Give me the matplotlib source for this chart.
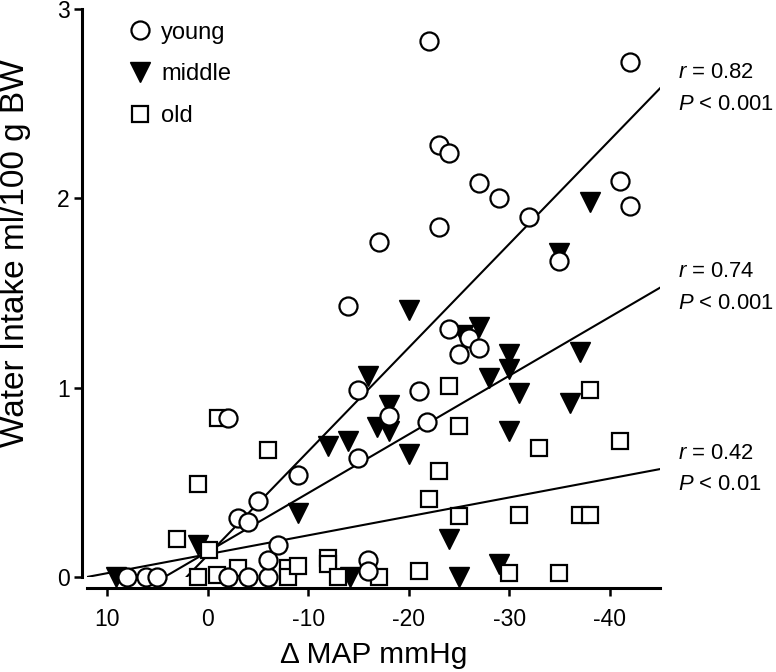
import numpy as np
import matplotlib
matplotlib.use("Agg")
import matplotlib.pyplot as plt
from matplotlib.lines import Line2D

plt.rcParams['font.family'] = ['Liberation Sans', 'DejaVu Sans']
plt.rcParams['mathtext.fontset'] = 'custom'
plt.rcParams['mathtext.rm'] = 'Liberation Sans'
plt.rcParams['mathtext.it'] = 'Liberation Sans:italic'
plt.rcParams['axes.unicode_minus'] = False

# young (open circles)
young_x = [8.0, 6.1, 5.0, -2.0, -4.0, -6.0, -6.0, -7.0, -3.0, -4.0, -5.0, -9.0,
           -2.0, -15.0, -15.0, -18.0, -21.8, -21.0, -14.0, -17.0, -23.0, -23.0,
           -24.0, -27.0, -29.0, -32.0, -22.0, -42.0, -41.0, -42.0, -35.0, -24.0,
           -26.0, -25.0, -27.0, -16.0, -16.0]
young_y = [0.0, 0.0, 0.0, 0.0, 0.0, 0.0, 0.09, 0.17, 0.31, 0.29, 0.40, 0.54,
           0.84, 0.63, 0.99, 0.85, 0.82, 0.98, 1.43, 1.77, 1.85, 2.28,
           2.24, 2.08, 2.00, 1.90, 2.83, 2.72, 2.09, 1.96, 1.67, 1.31,
           1.26, 1.18, 1.21, 0.09, 0.03]

# middle (filled triangles)
middle_x = [9.1, 1.0, -9.0, -12.0, -14.0, -16.0, -20.0, -18.0, -16.8, -18.0,
            -20.0, -25.4, -27.0, -30.0, -30.0, -28.0, -37.0, -31.0, -36.0,
            -30.0, -24.0, -25.0, -29.0, -14.2, -38.0, -35.0]
middle_y = [0.0, 0.17, 0.34, 0.69, 0.72, 1.06, 1.41, 0.91, 0.79, 0.77,
            0.65, 1.28, 1.32, 1.18, 1.10, 1.05, 1.19, 0.97, 0.92,
            0.77, 0.20, 0.0, 0.07, 0.0, 1.98, 1.71]

# old (open squares)
old_x = [1.0, -1.0, -6.0, 3.0, -0.1, 1.0, -0.9, -3.0, -8.0, -8.0, -9.0, -12.0,
         -12.0, -13.0, -17.0, -21.0, -24.0, -38.0, -25.0, -33.0, -41.0, -23.0,
         -22.0, -25.0, -31.0, -37.0, -38.0, -30.0, -35.0]
old_y = [0.49, 0.84, 0.67, 0.20, 0.14, 0.0, 0.01, 0.05, 0.05, 0.0, 0.06, 0.10,
         0.07, 0.0, 0.0, 0.03, 1.01, 0.99, 0.80, 0.68, 0.72, 0.56,
         0.41, 0.32, 0.33, 0.33, 0.33, 0.02, 0.02]

# regression lines (intercept, slope) and stats
fit_young = (0.115, -0.0548)
fit_middle = (0.133, -0.0310)
fit_old = (0.120, -0.0100)
stats = [("0.82", "0.001"), ("0.74", "0.001"), ("0.42", "0.01")]

xticks = [10, 0, -10, -20, -30, -40]
yticks = [0, 1, 2, 3]

fig = plt.figure(figsize=(7.76, 6.72), dpi=100)
ax = fig.add_axes([87/776, 1 - 577/672, 573/776, 568/672])

ax.set_xlim(12, -45)
ax.set_ylim(0, 3)

xs = np.array([12, -45])
for (a, b), (r, p) in zip([fit_young, fit_middle, fit_old], stats):
    ax.plot(xs, a + b * xs, color='black', lw=1.5, zorder=2)
    ax.annotate("$r$ = %s\n$P$ < %s" % (r, p), xy=(-45, a + b * -45),
                xytext=(13, 0), textcoords='offset points', va='center',
                ha='left', fontsize=15.8, linespacing=1.65, annotation_clip=False)

ax.plot(middle_x, middle_y, 'v', ms=14, color='black', mec='black',
        clip_on=False, zorder=3)
ax.plot(old_x, old_y, 's', ms=11, mfc='white', mec='black', mew=1.6,
        clip_on=False, zorder=4)
ax.plot(young_x, young_y, 'o', ms=13, mfc='white', mec='black', mew=1.6,
        clip_on=False, zorder=5)

handles = [
    Line2D([], [], ls='none', marker='o', ms=13, mfc='white', mec='black', mew=1.6),
    Line2D([], [], ls='none', marker='v', ms=14, color='black'),
    Line2D([], [], ls='none', marker='s', ms=11, mfc='white', mec='black', mew=1.6),
]
ax.legend(handles, ['young', 'middle', 'old'], loc='upper left',
          bbox_to_anchor=(0.031, 1.015), frameon=False, fontsize=17,
          handletextpad=0.3, labelspacing=0.83, handlelength=1.2)

for s in ['top', 'right']:
    ax.spines[s].set_visible(False)
ax.spines['left'].set_position(('outward', 3.5))
ax.spines['bottom'].set_position(('outward', 8))
ax.spines['left'].set_linewidth(2.2)
ax.spines['bottom'].set_linewidth(2.2)

ax.set_xticks(xticks)
ax.set_yticks(yticks)
ax.tick_params(width=1.8, length=5.5, labelsize=16.5, direction='out')
ax.tick_params(axis='x', pad=9)

ax.set_xlabel("Δ MAP mmHg", fontsize=21.5)
ax.xaxis.set_label_coords(0.5, -0.112)
ax.set_ylabel("Water Intake ml/100 g BW", fontsize=24)
ax.yaxis.set_label_coords(-0.097, 0.57)

fig.savefig("out.png", dpi=100)
